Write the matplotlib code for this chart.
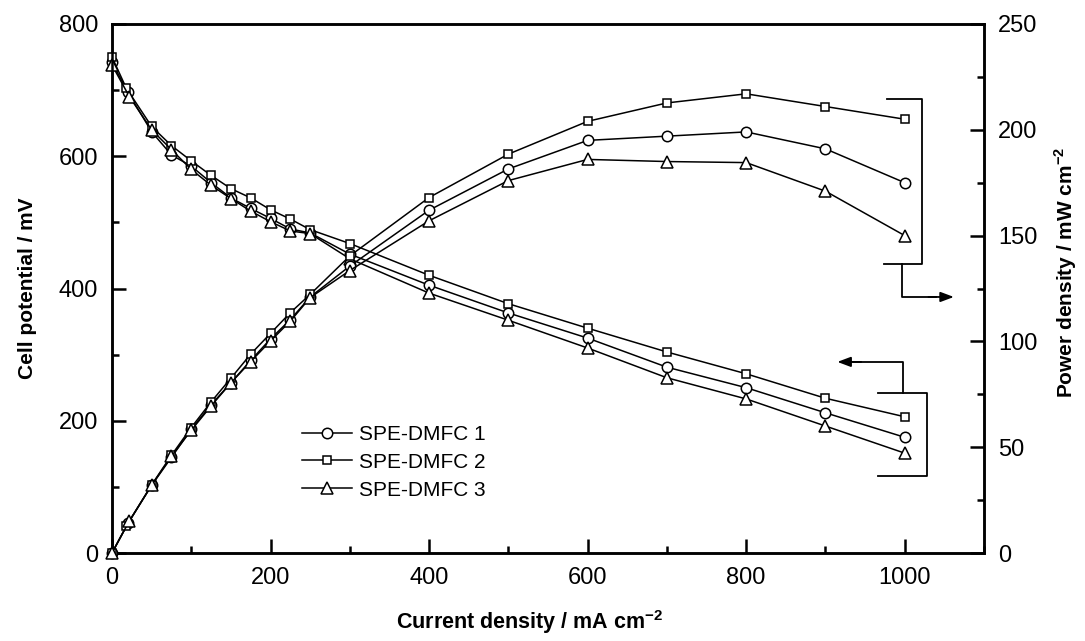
import matplotlib
matplotlib.use("Agg")
import matplotlib.pyplot as plt
from matplotlib.ticker import MultipleLocator

plt.rcParams['font.family'] = ['Liberation Sans', 'DejaVu Sans']
plt.rcParams['mathtext.fontset'] = 'custom'
plt.rcParams['mathtext.rm'] = 'Liberation Sans'
plt.rcParams['mathtext.bf'] = 'Liberation Sans:bold'

# ---- data ----
current_1 = [0, 20, 50, 75, 100, 125, 150, 175, 200, 225, 250, 300, 400, 500, 600, 700, 800, 900, 1000]
current_2 = [0, 18, 50, 75, 100, 125, 150, 175, 200, 225, 250, 300, 400, 500, 600, 700, 800, 900, 1000]
current_3 = [0, 22, 50, 75, 100, 125, 150, 175, 200, 225, 250, 300, 400, 500, 600, 700, 800, 900, 1000]

potential_1 = [742, 697, 637, 602, 585, 560, 537, 521, 506, 490, 484, 452, 405, 363, 325, 281, 250, 212, 175]
potential_2 = [750, 703, 645, 616, 593, 571, 551, 537, 519, 505, 489, 468, 420, 377, 340, 304, 271, 234, 206]
potential_3 = [738, 690, 640, 610, 580, 556, 536, 517, 501, 487, 483, 445, 393, 352, 310, 265, 233, 192, 151]

power_1 = [0, 14, 32, 45.2, 58.5, 70, 80.5, 91, 101.2, 110.3, 121, 135.6, 162, 181.5, 195, 197, 199, 191, 175]
power_2 = [0, 12.6, 32.2, 46.2, 59.3, 71.4, 82.6, 94, 103.8, 113.6, 122.2, 140.4, 168, 188.5, 204, 212.7, 217, 211, 205]
power_3 = [0, 15.2, 32, 45.8, 58, 69.5, 80.4, 90.5, 100.2, 109.6, 120.7, 133.5, 157, 176, 186, 185, 184.5, 171, 150]

labels = ['SPE-DMFC 1', 'SPE-DMFC 2', 'SPE-DMFC 3']
markers = ['o', 's', '^']
msizes = [7.5, 5.5, 9]

W, H = 1085, 641
fig = plt.figure(figsize=(W / 100, H / 100), dpi=100)
ax = fig.add_axes([112 / W, 1 - 553 / H, (984 - 112) / W, (553 - 24) / H])
ax2 = ax.twinx()

currents = [current_1, current_2, current_3]
pots = [potential_1, potential_2, potential_3]
pows = [power_1, power_2, power_3]

handles = []
for c, v, p, m, ms, lab in zip(currents, pots, pows, markers, msizes, labels):
    h, = ax.plot(c, v, color='black', lw=1.1, marker=m, ms=ms, mfc='white',
                 mec='black', mew=1.1, label=lab, clip_on=False, zorder=3)
    ax2.plot(c, p, color='black', lw=1.1, marker=m, ms=ms, mfc='white',
             mec='black', mew=1.1, clip_on=False, zorder=3)
    handles.append(h)

ax.set_xlim(0, 1100)
ax.set_ylim(0, 800)
ax2.set_ylim(0, 250)

ax.xaxis.set_major_locator(MultipleLocator(200))
ax.xaxis.set_minor_locator(MultipleLocator(100))
ax.yaxis.set_major_locator(MultipleLocator(200))
ax.yaxis.set_minor_locator(MultipleLocator(100))
ax2.yaxis.set_major_locator(MultipleLocator(50))
ax2.yaxis.set_minor_locator(MultipleLocator(25))
ax.set_xticks([0, 200, 400, 600, 800, 1000])

for a in (ax, ax2):
    for s in a.spines.values():
        s.set_linewidth(1.8)
ax.tick_params(axis='both', which='major', direction='in', length=10, width=1.8,
               labelsize=17, pad=10, top=False)
ax.tick_params(axis='both', which='minor', direction='in', length=5, width=1.8, top=False)
ax2.tick_params(axis='y', which='major', direction='in', length=10, width=1.8,
                labelsize=17, pad=10)
ax2.tick_params(axis='y', which='minor', direction='in', length=5, width=1.8)

fig.text(530 / W, 1 - 622 / H, r'Current density / mA cm$^{\mathbf{-2}}$',
         ha='center', va='center', fontsize=15.5, fontweight='bold')
fig.text(28 / W, 1 - 288 / H, 'Cell potential / mV', rotation=90,
         ha='center', va='center', fontsize=15, fontweight='bold')
fig.text(1066 / W, 1 - 272 / H, r'Power density / mW cm$^{\mathbf{-2}}$', rotation=90,
         ha='center', va='center', fontsize=15, fontweight='bold')

leg = ax.legend(handles=handles, loc='upper left',
                bbox_to_anchor=(302 / W, 1 - 425 / H), bbox_transform=fig.transFigure,
                frameon=False, fontsize=15, handlelength=2.4, handletextpad=0.35,
                labelspacing=0.42, borderpad=0, borderaxespad=0)

# ---- brackets and arrows ----
bk = dict(color='black', lw=1.3, clip_on=False)
# power bracket (right axis)
ax2.plot([978, 1022, 1022, 974], [214.6, 214.6, 136.6, 136.6], **bk)
ax2.plot([997, 997, 1040], [136.6, 121, 121], **bk)
ax2.annotate('', xy=(1062, 121), xytext=(1030, 121),
             arrowprops=dict(arrowstyle='-|>,head_length=0.8,head_width=0.3',
                             color='black', lw=1.3, shrinkA=0, shrinkB=0),
             annotation_clip=False)
# potential bracket (left axis)
ax.plot([966, 1028, 1028, 966], [242, 242, 116, 116], **bk)
ax.plot([998, 998, 935], [242, 289, 289], **bk)
ax.annotate('', xy=(915, 289), xytext=(945, 289),
            arrowprops=dict(arrowstyle='-|>,head_length=0.8,head_width=0.3',
                            color='black', lw=1.3, shrinkA=0, shrinkB=0),
            annotation_clip=False)

fig.savefig('out.png', dpi=100)
